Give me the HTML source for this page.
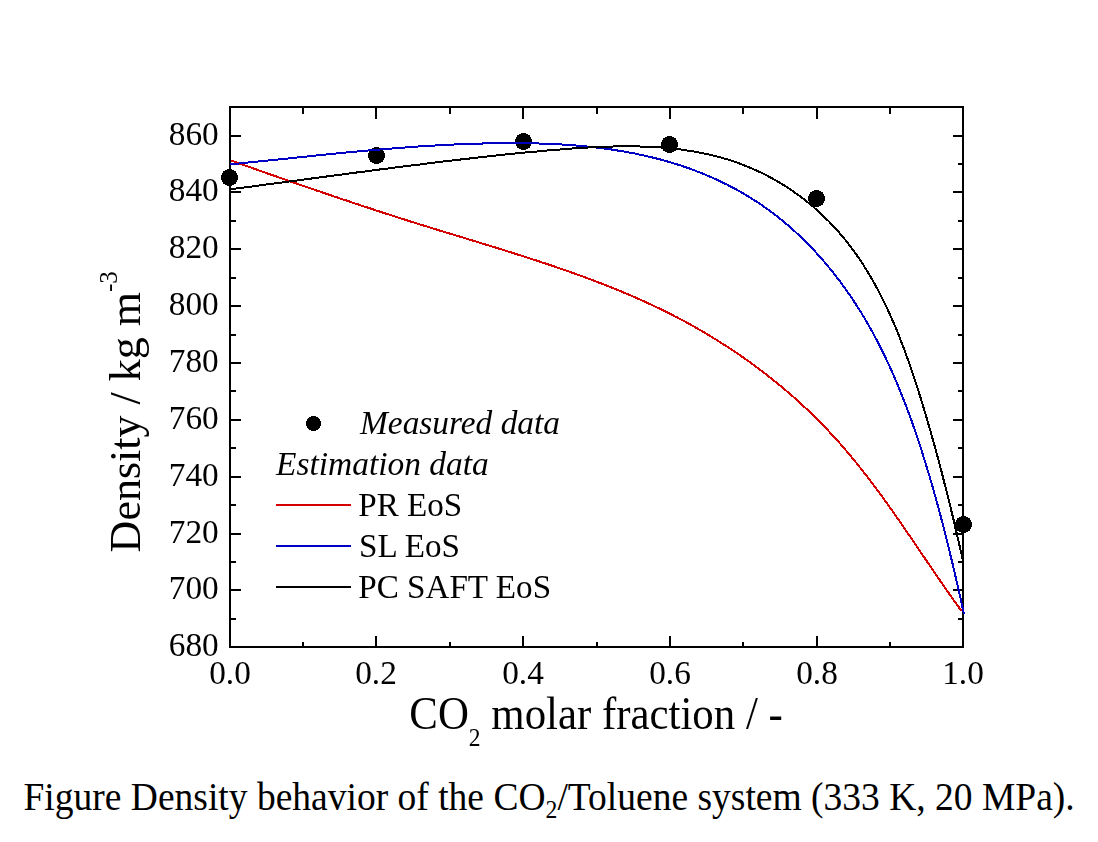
<!DOCTYPE html>
<html><head><meta charset="utf-8"><style>
html,body{margin:0;padding:0;background:#fff;width:1098px;height:842px;overflow:hidden;position:relative;}
svg{display:block;}
text{font-family:"Liberation Serif", serif;fill:#000;}
.g{opacity:0.999;}
</style></head><body>
<svg width="1098" height="760" viewBox="0 0 1098 760" style="position:absolute;left:0;top:0;will-change:transform">
<rect x="0" y="0" width="1098" height="760" fill="#fff"/>

<path d="M303,647V642M303,107V114M376,647V636M376,107V119M450,647V642M450,107V114M523,647V636M523,107V119M597,647V642M597,107V114M670,647V636M670,107V119M743,647V642M743,107V114M817,647V636M817,107V119M890,647V642M890,107V114M230,619H236M963,619H958M230,590H241M963,590H953M230,562H236M963,562H958M230,534H241M963,534H953M230,505H236M963,505H958M230,477H241M963,477H953M230,448H236M963,448H958M230,420H241M963,420H953M230,391H236M963,391H958M230,363H241M963,363H953M230,335H236M963,335H958M230,306H241M963,306H953M230,278H236M963,278H958M230,249H241M963,249H953M230,221H236M963,221H958M230,192H241M963,192H953M230,164H236M963,164H958M230,136H241M963,136H953" stroke="#000" stroke-width="2" fill="none" shape-rendering="crispEdges"/>
<rect x="230.0" y="107.0" width="733.0" height="540.0" stroke="#000" stroke-width="2" fill="none" shape-rendering="crispEdges"/>
<text class="g" x="218.7" y="655.9" font-size="33.3" text-anchor="end">680</text>
<text class="g" x="218.7" y="598.9" font-size="33.3" text-anchor="end">700</text>
<text class="g" x="218.7" y="542.9" font-size="33.3" text-anchor="end">720</text>
<text class="g" x="218.7" y="485.9" font-size="33.3" text-anchor="end">740</text>
<text class="g" x="218.7" y="428.9" font-size="33.3" text-anchor="end">760</text>
<text class="g" x="218.7" y="371.9" font-size="33.3" text-anchor="end">780</text>
<text class="g" x="218.7" y="314.9" font-size="33.3" text-anchor="end">800</text>
<text class="g" x="218.7" y="257.9" font-size="33.3" text-anchor="end">820</text>
<text class="g" x="218.7" y="200.9" font-size="33.3" text-anchor="end">840</text>
<text class="g" x="218.7" y="144.9" font-size="33.3" text-anchor="end">860</text>
<text class="g" x="230" y="683.5" font-size="33.3" text-anchor="middle">0.0</text>
<text class="g" x="376" y="683.5" font-size="33.3" text-anchor="middle">0.2</text>
<text class="g" x="523" y="683.5" font-size="33.3" text-anchor="middle">0.4</text>
<text class="g" x="670" y="683.5" font-size="33.3" text-anchor="middle">0.6</text>
<text class="g" x="817" y="683.5" font-size="33.3" text-anchor="middle">0.8</text>
<text class="g" x="963" y="683.5" font-size="33.3" text-anchor="middle">1.0</text>
<path d="M227,169h5v1h-5zM225,170h9v1h-9zM223,171h13v1h-13zM223,172h13v1h-13zM222,173h15v1h-15zM222,174h15v1h-15zM221,175h17v1h-17zM221,176h17v1h-17zM221,177h17v1h-17zM221,178h17v1h-17zM221,179h17v1h-17zM222,180h15v1h-15zM222,181h15v1h-15zM223,182h13v1h-13zM223,183h13v1h-13zM225,184h9v1h-9zM227,185h5v1h-5z" fill="#000" shape-rendering="crispEdges"/>
<path d="M374,147h5v1h-5zM372,148h9v1h-9zM370,149h13v1h-13zM370,150h13v1h-13zM369,151h15v1h-15zM369,152h15v1h-15zM368,153h17v1h-17zM368,154h17v1h-17zM368,155h17v1h-17zM368,156h17v1h-17zM368,157h17v1h-17zM369,158h15v1h-15zM369,159h15v1h-15zM370,160h13v1h-13zM370,161h13v1h-13zM372,162h9v1h-9zM374,163h5v1h-5z" fill="#000" shape-rendering="crispEdges"/>
<path d="M521,133h5v1h-5zM519,134h9v1h-9zM517,135h13v1h-13zM517,136h13v1h-13zM516,137h15v1h-15zM516,138h15v1h-15zM515,139h17v1h-17zM515,140h17v1h-17zM515,141h17v1h-17zM515,142h17v1h-17zM515,143h17v1h-17zM516,144h15v1h-15zM516,145h15v1h-15zM517,146h13v1h-13zM517,147h13v1h-13zM519,148h9v1h-9zM521,149h5v1h-5z" fill="#000" shape-rendering="crispEdges"/>
<path d="M667,136h5v1h-5zM665,137h9v1h-9zM663,138h13v1h-13zM663,139h13v1h-13zM662,140h15v1h-15zM662,141h15v1h-15zM661,142h17v1h-17zM661,143h17v1h-17zM661,144h17v1h-17zM661,145h17v1h-17zM661,146h17v1h-17zM662,147h15v1h-15zM662,148h15v1h-15zM663,149h13v1h-13zM663,150h13v1h-13zM665,151h9v1h-9zM667,152h5v1h-5z" fill="#000" shape-rendering="crispEdges"/>
<path d="M814,190h5v1h-5zM812,191h9v1h-9zM810,192h13v1h-13zM810,193h13v1h-13zM809,194h15v1h-15zM809,195h15v1h-15zM808,196h17v1h-17zM808,197h17v1h-17zM808,198h17v1h-17zM808,199h17v1h-17zM808,200h17v1h-17zM809,201h15v1h-15zM809,202h15v1h-15zM810,203h13v1h-13zM810,204h13v1h-13zM812,205h9v1h-9zM814,206h5v1h-5z" fill="#000" shape-rendering="crispEdges"/>
<path d="M961,516h5v1h-5zM959,517h9v1h-9zM957,518h13v1h-13zM957,519h13v1h-13zM956,520h15v1h-15zM956,521h15v1h-15zM955,522h17v1h-17zM955,523h17v1h-17zM955,524h17v1h-17zM955,525h17v1h-17zM955,526h17v1h-17zM956,527h15v1h-15zM956,528h15v1h-15zM957,529h13v1h-13zM957,530h13v1h-13zM959,531h9v1h-9zM961,532h5v1h-5z" fill="#000" shape-rendering="crispEdges"/>
<polyline points="230.6,160.4 232.0,160.9 233.4,161.4 234.8,161.9 236.2,162.4 237.7,162.9 239.1,163.4 240.5,163.8 241.9,164.3 243.3,164.8 244.7,165.3 246.1,165.8 247.5,166.3 248.9,166.8 250.3,167.3 251.7,167.8 253.1,168.3 254.5,168.8 255.9,169.3 257.3,169.8 258.7,170.3 260.1,170.8 261.5,171.3 262.9,171.8 264.3,172.3 265.7,172.8 267.1,173.3 268.5,173.8 269.9,174.3 271.3,174.7 272.7,175.2 274.1,175.7 275.5,176.2 276.9,176.7 278.3,177.2 279.7,177.7 281.1,178.2 282.5,178.7 283.9,179.2 285.3,179.6 286.7,180.1 288.1,180.6 289.5,181.1 290.9,181.6 292.3,182.1 293.7,182.6 295.1,183.0 296.5,183.5 297.9,184.0 299.3,184.5 300.7,185.0 302.1,185.5 303.5,186.0 304.9,186.4 306.3,186.9 307.7,187.4 309.1,187.9 310.5,188.4 311.9,188.8 313.3,189.3 314.7,189.8 316.1,190.3 317.5,190.8 318.9,191.2 320.3,191.7 321.7,192.2 323.1,192.7 324.5,193.1 325.9,193.6 327.3,194.1 328.7,194.6 330.1,195.0 331.5,195.5 332.9,196.0 334.3,196.5 335.7,196.9 337.1,197.4 338.5,197.9 339.9,198.4 341.3,198.8 342.7,199.3 344.1,199.8 345.5,200.2 346.9,200.7 348.3,201.2 349.7,201.6 351.1,202.1 352.5,202.6 353.9,203.1 355.3,203.5 356.7,204.0 358.1,204.4 359.5,204.9 360.9,205.4 362.3,205.8 363.7,206.3 365.1,206.8 366.5,207.2 367.9,207.7 369.3,208.2 370.7,208.6 372.1,209.1 373.5,209.5 374.9,210.0 376.3,210.5 377.7,210.9 379.1,211.4 380.5,211.8 381.9,212.3 383.3,212.7 384.7,213.2 386.1,213.7 387.6,214.1 389.0,214.6 390.4,215.0 391.8,215.5 393.2,215.9 394.6,216.4 396.0,216.8 397.4,217.3 398.8,217.7 400.2,218.2 401.6,218.6 403.1,219.1 404.5,219.5 405.9,220.0 407.3,220.4 408.7,220.9 410.1,221.3 411.5,221.8 412.9,222.2 414.4,222.6 415.8,223.1 417.2,223.5 418.6,224.0 420.0,224.4 421.4,224.9 422.9,225.3 424.3,225.7 425.7,226.2 427.1,226.6 428.5,227.1 429.9,227.5 431.4,227.9 432.8,228.4 434.2,228.8 435.6,229.3 437.1,229.7 438.5,230.1 439.9,230.6 441.3,231.0 442.7,231.4 444.2,231.9 445.6,232.3 447.0,232.7 448.4,233.2 449.9,233.6 451.3,234.0 452.7,234.5 454.1,234.9 455.5,235.3 457.0,235.8 458.4,236.2 459.8,236.6 461.2,237.1 462.7,237.5 464.1,237.9 465.5,238.4 466.9,238.8 468.4,239.2 469.8,239.7 471.2,240.1 472.6,240.5 474.1,241.0 475.5,241.4 476.9,241.9 478.3,242.3 479.8,242.7 481.2,243.2 482.6,243.6 484.0,244.0 485.5,244.5 486.9,244.9 488.3,245.3 489.8,245.8 491.2,246.2 492.6,246.7 494.0,247.1 495.5,247.5 496.9,248.0 498.3,248.4 499.7,248.9 501.1,249.3 502.6,249.7 504.0,250.2 505.4,250.6 506.8,251.1 508.3,251.5 509.7,252.0 511.1,252.4 512.5,252.9 514.0,253.3 515.4,253.8 516.8,254.2 518.2,254.7 519.6,255.1 521.1,255.6 522.5,256.0 523.9,256.5 525.3,256.9 526.7,257.4 528.2,257.8 529.6,258.3 531.0,258.8 532.4,259.2 533.8,259.7 535.2,260.1 536.7,260.6 538.1,261.1 539.5,261.5 540.9,262.0 542.3,262.5 543.7,262.9 545.2,263.4 546.6,263.9 548.0,264.3 549.4,264.8 550.8,265.3 552.2,265.8 553.6,266.2 555.0,266.7 556.4,267.2 557.8,267.7 559.3,268.2 560.7,268.7 562.1,269.1 563.5,269.6 564.9,270.1 566.3,270.6 567.7,271.1 569.1,271.6 570.5,272.1 571.9,272.6 573.3,273.1 574.7,273.6 576.1,274.1 577.5,274.6 578.9,275.1 580.3,275.6 581.7,276.1 583.1,276.6 584.5,277.1 585.9,277.6 587.3,278.2 588.6,278.7 590.0,279.2 591.4,279.7 592.8,280.2 594.2,280.8 595.6,281.3 597.0,281.8 598.4,282.4 599.7,282.9 601.1,283.4 602.5,284.0 603.9,284.5 605.3,285.0 606.7,285.6 608.0,286.1 609.4,286.7 610.8,287.2 612.2,287.8 613.5,288.3 614.9,288.9 616.3,289.4 617.7,290.0 619.0,290.6 620.4,291.1 621.8,291.7 623.1,292.3 624.5,292.8 625.9,293.4 627.2,294.0 628.6,294.6 629.9,295.2 631.3,295.7 632.7,296.3 634.0,296.9 635.4,297.5 636.7,298.1 638.1,298.7 639.4,299.3 640.8,299.9 642.1,300.5 643.5,301.1 644.8,301.7 646.2,302.3 647.5,303.0 648.9,303.6 650.2,304.2 651.5,304.8 652.9,305.5 654.2,306.1 655.6,306.7 656.9,307.4 658.2,308.0 659.6,308.6 660.9,309.3 662.2,309.9 663.5,310.6 664.9,311.2 666.2,311.9 667.5,312.5 668.8,313.2 670.2,313.9 671.5,314.5 672.8,315.2 674.1,315.9 675.4,316.6 676.7,317.2 678.0,317.9 679.4,318.6 680.7,319.3 682.0,320.0 683.3,320.7 684.6,321.4 685.9,322.1 687.2,322.8 688.5,323.5 689.8,324.2 691.1,324.9 692.4,325.7 693.6,326.4 694.9,327.1 696.2,327.8 697.5,328.6 698.8,329.3 700.1,330.0 701.3,330.8 702.6,331.5 703.9,332.3 705.2,333.0 706.4,333.8 707.7,334.5 709.0,335.3 710.3,336.1 711.5,336.8 712.8,337.6 714.0,338.4 715.3,339.2 716.6,339.9 717.8,340.7 719.1,341.5 720.3,342.3 721.6,343.1 722.8,343.9 724.1,344.7 725.3,345.5 726.6,346.3 727.8,347.1 729.0,347.9 730.3,348.7 731.5,349.5 732.7,350.3 734.0,351.2 735.2,352.0 736.4,352.8 737.6,353.7 738.9,354.5 740.1,355.3 741.3,356.2 742.5,357.0 743.7,357.9 744.9,358.7 746.1,359.6 747.3,360.4 748.5,361.3 749.8,362.1 751.0,363.0 752.1,363.9 753.3,364.8 754.5,365.6 755.7,366.5 756.9,367.4 758.1,368.3 759.3,369.2 760.5,370.1 761.6,370.9 762.8,371.8 764.0,372.7 765.2,373.6 766.3,374.6 767.5,375.5 768.7,376.4 769.8,377.3 771.0,378.2 772.1,379.1 773.3,380.1 774.5,381.0 775.6,381.9 776.7,382.8 777.9,383.8 779.0,384.7 780.2,385.7 781.3,386.6 782.4,387.6 783.6,388.5 784.7,389.5 785.8,390.4 787.0,391.4 788.1,392.3 789.2,393.3 790.3,394.3 791.4,395.3 792.5,396.2 793.7,397.2 794.8,398.2 795.9,399.2 797.0,400.2 798.1,401.2 799.2,402.1 800.3,403.1 801.3,404.1 802.4,405.1 803.5,406.1 804.6,407.2 805.7,408.2 806.8,409.2 807.8,410.2 808.9,411.2 810.0,412.2 811.0,413.3 812.1,414.3 813.2,415.3 814.2,416.4 815.3,417.4 816.3,418.5 817.4,419.5 818.4,420.5 819.5,421.6 820.5,422.6 821.5,423.7 822.6,424.8 823.6,425.8 824.6,426.9 825.7,428.0 826.7,429.0 827.7,430.1 828.7,431.2 829.7,432.3 830.7,433.3 831.7,434.4 832.7,435.5 833.7,436.6 834.7,437.7 835.7,438.8 836.7,439.9 837.7,441.0 838.7,442.1 839.7,443.2 840.7,444.3 841.6,445.4 842.6,446.6 843.6,447.7 844.6,448.8 845.5,449.9 846.5,451.1 847.4,452.2 848.4,453.3 849.4,454.5 850.3,455.6 851.3,456.7 852.2,457.9 853.1,459.0 854.1,460.2 855.0,461.3 856.0,462.5 856.9,463.6 857.8,464.8 858.8,465.9 859.7,467.1 860.6,468.3 861.5,469.4 862.4,470.6 863.4,471.8 864.3,472.9 865.2,474.1 866.1,475.3 867.0,476.5 867.9,477.6 868.8,478.8 869.7,480.0 870.6,481.2 871.5,482.4 872.4,483.6 873.3,484.7 874.2,485.9 875.1,487.1 876.0,488.3 876.9,489.5 877.8,490.7 878.6,491.9 879.5,493.1 880.4,494.3 881.3,495.5 882.2,496.7 883.0,497.9 883.9,499.1 884.8,500.3 885.6,501.6 886.5,502.8 887.4,504.0 888.2,505.2 889.1,506.4 890.0,507.6 890.8,508.8 891.7,510.0 892.6,511.3 893.4,512.5 894.3,513.7 895.1,514.9 896.0,516.1 896.8,517.4 897.7,518.6 898.5,519.8 899.4,521.0 900.2,522.3 901.1,523.5 901.9,524.7 902.8,525.9 903.6,527.2 904.5,528.4 905.3,529.6 906.1,530.8 907.0,532.1 907.8,533.3 908.7,534.5 909.5,535.7 910.4,537.0 911.2,538.2 912.0,539.4 912.9,540.7 913.7,541.9 914.5,543.1 915.4,544.4 916.2,545.6 917.0,546.8 917.9,548.0 918.7,549.3 919.6,550.5 920.4,551.7 921.2,553.0 922.1,554.2 922.9,555.4 923.7,556.6 924.6,557.9 925.4,559.1 926.2,560.3 927.1,561.6 927.9,562.8 928.7,564.0 929.6,565.2 930.4,566.5 931.2,567.7 932.1,568.9 932.9,570.1 933.7,571.3 934.6,572.6 935.4,573.8 936.2,575.0 937.1,576.2 937.9,577.4 938.7,578.7 939.6,579.9 940.4,581.1 941.2,582.3 942.1,583.5 942.9,584.7 943.8,585.9 944.6,587.1 945.4,588.4 946.3,589.6 947.1,590.8 948.0,592.0 948.8,593.2 949.6,594.4 950.5,595.6 951.3,596.8 952.2,598.0 953.0,599.2 953.9,600.4 954.7,601.6 955.6,602.8 956.4,603.9 957.3,605.1 958.1,606.3 959.0,607.5 959.8,608.7 960.7,609.9 961.6,611.1" stroke="#d40000" stroke-width="2" fill="none" stroke-linejoin="round" shape-rendering="crispEdges"/>
<polyline points="230.4,164.3 232.1,164.1 233.8,164.0 235.4,163.8 237.1,163.6 238.8,163.5 240.5,163.3 242.2,163.1 243.9,162.9 245.6,162.8 247.3,162.6 249.0,162.4 250.7,162.3 252.4,162.1 254.1,161.9 255.8,161.8 257.5,161.6 259.2,161.4 260.8,161.2 262.5,161.1 264.2,160.9 265.9,160.7 267.6,160.6 269.3,160.4 271.0,160.2 272.7,160.0 274.3,159.9 276.0,159.7 277.7,159.5 279.4,159.3 281.1,159.2 282.8,159.0 284.4,158.8 286.1,158.6 287.8,158.5 289.5,158.3 291.2,158.1 292.9,157.9 294.5,157.8 296.2,157.6 297.9,157.4 299.6,157.3 301.3,157.1 302.9,156.9 304.6,156.7 306.3,156.6 308.0,156.4 309.7,156.2 311.3,156.0 313.0,155.9 314.7,155.7 316.4,155.5 318.0,155.4 319.7,155.2 321.4,155.0 323.1,154.9 324.8,154.7 326.4,154.5 328.1,154.4 329.8,154.2 331.5,154.0 333.1,153.9 334.8,153.7 336.5,153.5 338.2,153.4 339.8,153.2 341.5,153.0 343.2,152.9 344.9,152.7 346.5,152.5 348.2,152.4 349.9,152.2 351.6,152.1 353.2,151.9 354.9,151.7 356.6,151.6 358.2,151.4 359.9,151.3 361.6,151.1 363.3,151.0 364.9,150.8 366.6,150.7 368.3,150.5 370.0,150.4 371.6,150.2 373.3,150.1 375.0,149.9 376.7,149.8 378.3,149.6 380.0,149.5 381.7,149.4 383.4,149.2 385.0,149.1 386.7,148.9 388.4,148.8 390.1,148.7 391.7,148.5 393.4,148.4 395.1,148.3 396.8,148.1 398.4,148.0 400.1,147.9 401.8,147.7 403.5,147.6 405.1,147.5 406.8,147.4 408.5,147.2 410.2,147.1 411.8,147.0 413.5,146.9 415.2,146.8 416.9,146.6 418.5,146.5 420.2,146.4 421.9,146.3 423.6,146.2 425.3,146.1 426.9,146.0 428.6,145.9 430.3,145.8 432.0,145.7 433.6,145.6 435.3,145.5 437.0,145.4 438.7,145.3 440.4,145.2 442.1,145.1 443.7,145.0 445.4,144.9 447.1,144.8 448.8,144.8 450.5,144.7 452.1,144.6 453.8,144.5 455.5,144.4 457.2,144.4 458.9,144.3 460.6,144.2 462.3,144.2 463.9,144.1 465.6,144.0 467.3,144.0 469.0,143.9 470.7,143.8 472.4,143.8 474.1,143.7 475.8,143.7 477.4,143.6 479.1,143.6 480.8,143.5 482.5,143.5 484.2,143.4 485.9,143.4 487.6,143.4 489.3,143.3 491.0,143.3 492.7,143.3 494.4,143.3 496.1,143.2 497.8,143.2 499.5,143.2 501.2,143.2 502.9,143.2 504.6,143.1 506.3,143.1 508.0,143.1 509.7,143.1 511.4,143.1 513.1,143.1 514.8,143.1 516.5,143.1 518.2,143.1 519.9,143.1 521.6,143.2 523.3,143.2 525.0,143.2 526.7,143.2 528.4,143.3 530.1,143.3 531.8,143.3 533.5,143.4 535.2,143.4 536.9,143.4 538.6,143.5 540.3,143.5 542.0,143.6 543.7,143.7 545.4,143.7 547.1,143.8 548.8,143.8 550.5,143.9 552.2,144.0 553.9,144.1 555.6,144.2 557.3,144.3 559.0,144.3 560.7,144.4 562.4,144.5 564.1,144.7 565.8,144.8 567.5,144.9 569.2,145.0 570.9,145.1 572.6,145.2 574.3,145.4 576.0,145.5 577.7,145.7 579.4,145.8 581.1,146.0 582.8,146.1 584.5,146.3 586.2,146.4 587.9,146.6 589.6,146.8 591.2,147.0 592.9,147.1 594.6,147.3 596.3,147.5 598.0,147.7 599.7,147.9 601.4,148.1 603.0,148.4 604.7,148.6 606.4,148.8 608.1,149.0 609.8,149.3 611.4,149.5 613.1,149.8 614.8,150.0 616.5,150.3 618.1,150.6 619.8,150.8 621.5,151.1 623.1,151.4 624.8,151.7 626.5,152.0 628.1,152.3 629.8,152.6 631.4,152.9 633.1,153.2 634.8,153.5 636.4,153.9 638.1,154.2 639.7,154.6 641.4,154.9 643.0,155.3 644.7,155.6 646.3,156.0 647.9,156.4 649.6,156.8 651.2,157.2 652.9,157.6 654.5,158.0 656.1,158.4 657.8,158.8 659.4,159.2 661.0,159.7 662.6,160.1 664.3,160.5 665.9,161.0 667.5,161.5 669.1,161.9 670.7,162.4 672.3,162.9 674.0,163.4 675.6,163.9 677.2,164.4 678.8,164.9 680.4,165.4 682.0,166.0 683.6,166.5 685.2,167.0 686.7,167.6 688.3,168.1 689.9,168.7 691.5,169.3 693.1,169.9 694.7,170.5 696.2,171.1 697.8,171.7 699.4,172.3 700.9,172.9 702.5,173.5 704.0,174.2 705.6,174.8 707.1,175.5 708.7,176.1 710.2,176.8 711.8,177.5 713.3,178.1 714.8,178.8 716.4,179.5 717.9,180.2 719.4,180.9 720.9,181.7 722.5,182.4 724.0,183.1 725.5,183.9 727.0,184.6 728.5,185.4 730.0,186.1 731.4,186.9 732.9,187.7 734.4,188.5 735.9,189.3 737.4,190.1 738.8,190.9 740.3,191.7 741.7,192.6 743.2,193.4 744.6,194.3 746.1,195.1 747.5,196.0 749.0,196.8 750.4,197.7 751.8,198.6 753.2,199.5 754.6,200.4 756.0,201.3 757.4,202.2 758.8,203.2 760.2,204.1 761.6,205.0 763.0,206.0 764.4,207.0 765.7,207.9 767.1,208.9 768.5,209.9 769.8,210.9 771.2,211.9 772.5,212.9 773.8,213.9 775.2,214.9 776.5,215.9 777.8,217.0 779.1,218.0 780.4,219.1 781.7,220.1 783.0,221.2 784.3,222.2 785.6,223.3 786.9,224.4 788.2,225.5 789.4,226.6 790.7,227.7 792.0,228.8 793.2,229.9 794.5,231.1 795.7,232.2 796.9,233.3 798.2,234.5 799.4,235.6 800.6,236.8 801.8,238.0 803.0,239.1 804.2,240.3 805.4,241.5 806.6,242.7 807.8,243.9 809.0,245.1 810.2,246.3 811.3,247.5 812.5,248.7 813.6,250.0 814.8,251.2 815.9,252.4 817.1,253.7 818.2,254.9 819.3,256.2 820.5,257.4 821.6,258.7 822.7,260.0 823.8,261.3 824.9,262.5 826.0,263.8 827.1,265.1 828.1,266.4 829.2,267.7 830.3,269.0 831.4,270.3 832.4,271.7 833.5,273.0 834.5,274.3 835.6,275.6 836.6,277.0 837.6,278.3 838.6,279.7 839.7,281.0 840.7,282.4 841.7,283.7 842.7,285.1 843.7,286.5 844.7,287.8 845.7,289.2 846.6,290.6 847.6,292.0 848.6,293.4 849.5,294.8 850.5,296.1 851.4,297.5 852.4,299.0 853.3,300.4 854.2,301.8 855.2,303.2 856.1,304.6 857.0,306.0 857.9,307.5 858.8,308.9 859.7,310.3 860.6,311.8 861.5,313.2 862.4,314.6 863.2,316.1 864.1,317.5 865.0,319.0 865.8,320.4 866.7,321.9 867.5,323.4 868.4,324.8 869.2,326.3 870.0,327.8 870.9,329.3 871.7,330.7 872.5,332.2 873.3,333.7 874.1,335.2 874.9,336.7 875.7,338.2 876.5,339.7 877.3,341.2 878.1,342.7 878.8,344.2 879.6,345.7 880.4,347.2 881.1,348.7 881.9,350.2 882.6,351.7 883.4,353.3 884.1,354.8 884.8,356.3 885.6,357.8 886.3,359.4 887.0,360.9 887.7,362.4 888.5,364.0 889.2,365.5 889.9,367.1 890.6,368.6 891.3,370.1 892.0,371.7 892.7,373.3 893.3,374.8 894.0,376.4 894.7,377.9 895.4,379.5 896.0,381.0 896.7,382.6 897.3,384.2 898.0,385.7 898.7,387.3 899.3,388.9 899.9,390.4 900.6,392.0 901.2,393.6 901.8,395.2 902.5,396.8 903.1,398.3 903.7,399.9 904.3,401.5 904.9,403.1 905.6,404.7 906.2,406.3 906.8,407.9 907.4,409.5 908.0,411.0 908.5,412.6 909.1,414.2 909.7,415.8 910.3,417.4 910.9,419.0 911.5,420.6 912.0,422.2 912.6,423.8 913.2,425.4 913.7,427.1 914.3,428.7 914.8,430.3 915.4,431.9 915.9,433.5 916.5,435.1 917.0,436.7 917.6,438.3 918.1,439.9 918.6,441.5 919.2,443.2 919.7,444.8 920.2,446.4 920.8,448.0 921.3,449.6 921.8,451.2 922.3,452.9 922.8,454.5 923.3,456.1 923.8,457.7 924.3,459.3 924.8,461.0 925.4,462.6 925.8,464.2 926.3,465.8 926.8,467.4 927.3,469.1 927.8,470.7 928.3,472.3 928.8,473.9 929.3,475.6 929.8,477.2 930.2,478.8 930.7,480.4 931.2,482.1 931.7,483.7 932.1,485.3 932.6,486.9 933.1,488.6 933.5,490.2 934.0,491.8 934.4,493.4 934.9,495.1 935.4,496.7 935.8,498.3 936.3,499.9 936.7,501.6 937.2,503.2 937.6,504.8 938.0,506.5 938.5,508.1 938.9,509.7 939.4,511.3 939.8,513.0 940.2,514.6 940.7,516.2 941.1,517.9 941.5,519.5 941.9,521.1 942.4,522.7 942.8,524.4 943.2,526.0 943.6,527.6 944.1,529.3 944.5,530.9 944.9,532.5 945.3,534.2 945.7,535.8 946.1,537.4 946.5,539.0 946.9,540.7 947.3,542.3 947.7,543.9 948.1,545.6 948.5,547.2 948.9,548.8 949.3,550.5 949.7,552.1 950.1,553.7 950.5,555.3 950.9,557.0 951.3,558.6 951.7,560.2 952.1,561.9 952.5,563.5 952.9,565.1 953.3,566.8 953.6,568.4 954.0,570.0 954.4,571.6 954.8,573.3 955.2,574.9 955.5,576.5 955.9,578.2 956.3,579.8 956.7,581.4 957.0,583.1 957.4,584.7 957.8,586.3 958.2,587.9 958.5,589.6 958.9,591.2 959.3,592.8 959.6,594.5 960.0,596.1 960.4,597.7 960.7,599.3 961.1,601.0 961.4,602.6 961.8,604.2 962.2,605.9 962.5,607.5 962.9,609.1 963.2,610.7 963.6,612.4 963.9,614.0" stroke="#0000c4" stroke-width="2" fill="none" stroke-linejoin="round" shape-rendering="crispEdges"/>
<polyline points="230.5,189.3 232.2,189.1 233.8,188.9 235.4,188.6 237.1,188.4 238.7,188.2 240.3,188.0 242.0,187.8 243.6,187.6 245.2,187.3 246.9,187.1 248.5,186.9 250.1,186.7 251.8,186.5 253.4,186.3 255.1,186.0 256.7,185.8 258.3,185.6 260.0,185.4 261.6,185.2 263.2,185.0 264.9,184.7 266.5,184.5 268.2,184.3 269.8,184.1 271.4,183.9 273.1,183.7 274.7,183.4 276.3,183.2 278.0,183.0 279.6,182.8 281.3,182.6 282.9,182.3 284.5,182.1 286.2,181.9 287.8,181.7 289.4,181.5 291.1,181.2 292.7,181.0 294.4,180.8 296.0,180.6 297.6,180.4 299.3,180.2 300.9,179.9 302.6,179.7 304.2,179.5 305.8,179.3 307.5,179.1 309.1,178.8 310.7,178.6 312.4,178.4 314.0,178.2 315.7,178.0 317.3,177.7 318.9,177.5 320.6,177.3 322.2,177.1 323.9,176.9 325.5,176.7 327.1,176.4 328.8,176.2 330.4,176.0 332.1,175.8 333.7,175.6 335.3,175.4 337.0,175.1 338.6,174.9 340.3,174.7 341.9,174.5 343.5,174.3 345.2,174.0 346.8,173.8 348.5,173.6 350.1,173.4 351.7,173.2 353.4,173.0 355.0,172.8 356.6,172.5 358.3,172.3 359.9,172.1 361.6,171.9 363.2,171.7 364.8,171.5 366.5,171.3 368.1,171.0 369.8,170.8 371.4,170.6 373.0,170.4 374.7,170.2 376.3,170.0 378.0,169.8 379.6,169.5 381.2,169.3 382.9,169.1 384.5,168.9 386.1,168.7 387.8,168.5 389.4,168.3 391.1,168.1 392.7,167.9 394.3,167.7 396.0,167.4 397.6,167.2 399.2,167.0 400.9,166.8 402.5,166.6 404.2,166.4 405.8,166.2 407.4,166.0 409.1,165.8 410.7,165.6 412.3,165.4 414.0,165.2 415.6,165.0 417.3,164.8 418.9,164.6 420.5,164.4 422.2,164.1 423.8,163.9 425.4,163.7 427.1,163.5 428.7,163.3 430.3,163.1 432.0,162.9 433.6,162.7 435.2,162.5 436.9,162.3 438.5,162.1 440.1,161.9 441.8,161.7 443.4,161.5 445.1,161.4 446.7,161.2 448.3,161.0 450.0,160.8 451.6,160.6 453.2,160.4 454.9,160.2 456.5,160.0 458.1,159.8 459.8,159.6 461.4,159.4 463.0,159.2 464.7,159.0 466.3,158.8 467.9,158.7 469.6,158.5 471.2,158.3 472.8,158.1 474.5,157.9 476.1,157.7 477.7,157.5 479.4,157.4 481.0,157.2 482.6,157.0 484.3,156.8 485.9,156.6 487.5,156.4 489.2,156.3 490.8,156.1 492.4,155.9 494.1,155.7 495.7,155.6 497.3,155.4 499.0,155.2 500.6,155.0 502.2,154.9 503.9,154.7 505.5,154.5 507.2,154.4 508.8,154.2 510.4,154.0 512.1,153.8 513.7,153.7 515.3,153.5 517.0,153.4 518.6,153.2 520.3,153.0 521.9,152.9 523.6,152.7 525.2,152.5 526.8,152.4 528.5,152.2 530.1,152.1 531.8,151.9 533.4,151.8 535.1,151.6 536.7,151.5 538.4,151.3 540.0,151.2 541.6,151.0 543.3,150.9 544.9,150.7 546.6,150.6 548.2,150.4 549.9,150.3 551.5,150.1 553.2,150.0 554.9,149.9 556.5,149.7 558.2,149.6 559.8,149.5 561.5,149.3 563.1,149.2 564.8,149.1 566.4,148.9 568.1,148.8 569.8,148.7 571.4,148.6 573.1,148.4 574.7,148.3 576.4,148.2 578.1,148.1 579.7,148.0 581.4,147.9 583.0,147.8 584.7,147.7 586.4,147.6 588.0,147.5 589.7,147.4 591.4,147.3 593.0,147.2 594.7,147.1 596.3,147.0 598.0,147.0 599.7,146.9 601.3,146.8 603.0,146.8 604.7,146.7 606.3,146.6 608.0,146.6 609.7,146.5 611.3,146.5 613.0,146.5 614.6,146.4 616.3,146.4 618.0,146.4 619.6,146.3 621.3,146.3 622.9,146.3 624.6,146.3 626.3,146.3 627.9,146.3 629.6,146.3 631.3,146.3 632.9,146.3 634.6,146.4 636.2,146.4 637.9,146.4 639.5,146.5 641.2,146.5 642.9,146.6 644.5,146.6 646.2,146.7 647.8,146.7 649.5,146.8 651.1,146.9 652.8,147.0 654.4,147.1 656.1,147.2 657.7,147.3 659.4,147.4 661.0,147.5 662.7,147.7 664.3,147.8 666.0,147.9 667.6,148.1 669.2,148.2 670.9,148.4 672.5,148.6 674.2,148.8 675.8,148.9 677.4,149.1 679.1,149.3 680.7,149.5 682.3,149.8 684.0,150.0 685.6,150.2 687.2,150.5 688.9,150.7 690.5,151.0 692.1,151.2 693.7,151.5 695.4,151.8 697.0,152.1 698.6,152.4 700.2,152.7 701.8,153.0 703.4,153.4 705.1,153.7 706.7,154.0 708.3,154.4 709.9,154.8 711.5,155.1 713.1,155.5 714.7,155.9 716.3,156.3 717.9,156.7 719.5,157.2 721.0,157.6 722.6,158.0 724.2,158.5 725.8,159.0 727.4,159.4 728.9,159.9 730.5,160.4 732.1,160.9 733.6,161.4 735.2,162.0 736.7,162.5 738.3,163.1 739.8,163.6 741.4,164.2 742.9,164.8 744.4,165.4 746.0,166.0 747.5,166.6 749.0,167.2 750.5,167.9 752.0,168.5 753.5,169.2 755.0,169.8 756.5,170.5 758.0,171.2 759.5,171.9 761.0,172.6 762.5,173.3 763.9,174.1 765.4,174.8 766.9,175.5 768.3,176.3 769.8,177.1 771.2,177.9 772.6,178.7 774.1,179.5 775.5,180.3 776.9,181.1 778.3,181.9 779.8,182.8 781.2,183.6 782.6,184.5 784.0,185.3 785.4,186.2 786.7,187.1 788.1,188.0 789.5,188.9 790.8,189.8 792.2,190.7 793.6,191.7 794.9,192.6 796.2,193.6 797.6,194.5 798.9,195.5 800.2,196.5 801.5,197.4 802.8,198.4 804.1,199.4 805.4,200.5 806.7,201.5 808.0,202.5 809.3,203.5 810.5,204.6 811.8,205.6 813.1,206.7 814.3,207.8 815.5,208.8 816.8,209.9 818.0,211.0 819.2,212.1 820.4,213.2 821.6,214.4 822.8,215.5 824.0,216.6 825.2,217.8 826.3,218.9 827.5,220.1 828.7,221.2 829.8,222.4 830.9,223.6 832.1,224.7 833.2,225.9 834.3,227.1 835.4,228.3 836.5,229.6 837.6,230.8 838.7,232.0 839.7,233.2 840.8,234.5 841.9,235.7 842.9,237.0 844.0,238.2 845.0,239.5 846.0,240.8 847.0,242.1 848.0,243.3 849.0,244.6 850.0,245.9 851.0,247.2 852.0,248.5 853.0,249.9 853.9,251.2 854.9,252.5 855.8,253.9 856.8,255.2 857.7,256.5 858.6,257.9 859.6,259.2 860.5,260.6 861.4,262.0 862.3,263.3 863.2,264.7 864.1,266.1 864.9,267.5 865.8,268.9 866.7,270.3 867.5,271.7 868.4,273.1 869.2,274.5 870.1,275.9 870.9,277.4 871.7,278.8 872.6,280.2 873.4,281.7 874.2,283.1 875.0,284.5 875.8,286.0 876.6,287.4 877.4,288.9 878.1,290.4 878.9,291.8 879.7,293.3 880.4,294.8 881.2,296.3 881.9,297.7 882.7,299.2 883.4,300.7 884.2,302.2 884.9,303.7 885.6,305.2 886.3,306.7 887.0,308.2 887.7,309.7 888.4,311.2 889.1,312.8 889.8,314.3 890.5,315.8 891.2,317.3 891.9,318.9 892.5,320.4 893.2,321.9 893.9,323.5 894.5,325.0 895.2,326.5 895.8,328.1 896.5,329.6 897.1,331.2 897.7,332.7 898.4,334.3 899.0,335.9 899.6,337.4 900.2,339.0 900.8,340.5 901.4,342.1 902.0,343.7 902.6,345.2 903.2,346.8 903.8,348.4 904.4,350.0 905.0,351.5 905.6,353.1 906.2,354.7 906.7,356.3 907.3,357.8 907.9,359.4 908.4,361.0 909.0,362.6 909.5,364.2 910.1,365.8 910.6,367.3 911.2,368.9 911.7,370.5 912.3,372.1 912.8,373.7 913.3,375.3 913.8,376.9 914.4,378.5 914.9,380.1 915.4,381.7 915.9,383.3 916.4,384.8 917.0,386.4 917.5,388.0 918.0,389.6 918.5,391.2 919.0,392.8 919.5,394.4 920.0,396.0 920.5,397.6 921.0,399.2 921.5,400.8 921.9,402.4 922.4,404.0 922.9,405.5 923.4,407.1 923.9,408.7 924.3,410.3 924.8,411.9 925.3,413.5 925.8,415.1 926.2,416.7 926.7,418.2 927.2,419.8 927.6,421.4 928.1,423.0 928.5,424.6 929.0,426.1 929.5,427.7 929.9,429.3 930.4,430.9 930.8,432.5 931.3,434.0 931.7,435.6 932.2,437.2 932.6,438.8 933.1,440.4 933.5,441.9 933.9,443.5 934.4,445.1 934.8,446.7 935.2,448.3 935.7,449.8 936.1,451.4 936.5,453.0 937.0,454.6 937.4,456.1 937.8,457.7 938.2,459.3 938.7,460.9 939.1,462.4 939.5,464.0 939.9,465.6 940.3,467.2 940.8,468.8 941.2,470.3 941.6,471.9 942.0,473.5 942.4,475.1 942.8,476.6 943.2,478.2 943.6,479.8 944.0,481.4 944.4,483.0 944.8,484.6 945.2,486.1 945.6,487.7 946.0,489.3 946.4,490.9 946.8,492.5 947.2,494.1 947.6,495.6 948.0,497.2 948.4,498.8 948.8,500.4 949.2,502.0 949.6,503.6 950.0,505.2 950.4,506.8 950.8,508.4 951.2,510.0 951.5,511.5 951.9,513.1 952.3,514.7 952.7,516.3 953.1,517.9 953.5,519.5 953.8,521.1 954.2,522.7 954.6,524.3 955.0,525.9 955.3,527.5 955.7,529.2 956.1,530.8 956.5,532.4 956.8,534.0 957.2,535.6 957.6,537.2 958.0,538.8 958.3,540.4 958.7,542.1 959.1,543.7 959.5,545.3 959.8,546.9 960.2,548.5 960.6,550.2 960.9,551.8 961.3,553.4 961.7,555.0 962.0,556.7 962.4,558.3 962.8,559.9" stroke="#000" stroke-width="2" fill="none" stroke-linejoin="round" shape-rendering="crispEdges"/>
<path d="M311,416h5v1h-5zM309,417h9v1h-9zM308,418h11v1h-11zM307,419h13v1h-13zM307,420h13v1h-13zM306,421h15v1h-15zM306,422h15v1h-15zM306,423h15v1h-15zM306,424h15v1h-15zM306,425h15v1h-15zM307,426h13v1h-13zM307,427h13v1h-13zM308,428h11v1h-11zM309,429h9v1h-9zM311,430h5v1h-5z" fill="#000" shape-rendering="crispEdges"/>
<text class="g" x="360" y="433.8" font-size="33.2" font-style="italic" textLength="200" lengthAdjust="spacingAndGlyphs">Measured data</text>
<text class="g" x="276" y="475" font-size="33.2" font-style="italic" textLength="212.7" lengthAdjust="spacingAndGlyphs">Estimation data</text>
<line x1="276" y1="505" x2="351" y2="505" stroke="#d40000" stroke-width="2" shape-rendering="crispEdges"/>
<text class="g" x="358.3" y="516.2" font-size="33.8" textLength="104" lengthAdjust="spacingAndGlyphs">PR EoS</text>
<line x1="276" y1="546" x2="351" y2="546" stroke="#0000c4" stroke-width="2" shape-rendering="crispEdges"/>
<text class="g" x="359" y="557.3" font-size="33.8" textLength="101" lengthAdjust="spacingAndGlyphs">SL EoS</text>
<line x1="276" y1="587" x2="351" y2="587" stroke="#000" stroke-width="2" shape-rendering="crispEdges"/>
<text class="g" x="358.2" y="598.3" font-size="33.8" textLength="192.9" lengthAdjust="spacingAndGlyphs">PC SAFT EoS</text>
<text class="g" transform="translate(139.8,552.4) rotate(-90)" font-size="44"><tspan>Density / kg m</tspan><tspan font-size="25" dy="-23">-3</tspan></text>
<text class="g" transform="translate(409.3,729) scale(0.942,1)" font-size="45.5">CO<tspan font-size="25" dy="17">2</tspan><tspan dy="-17"> molar fraction / -</tspan></text>
</svg>
<svg width="1098" height="82" viewBox="0 760 1098 82" style="position:absolute;left:0;top:760px">
<text transform="translate(23.5,810) scale(0.95,1)" font-size="39.5">Figure Density behavior of the CO<tspan font-size="25" dy="8">2</tspan><tspan dy="-8">/Toluene system (333 K, 20 MPa).</tspan></text>
</svg></body></html>
